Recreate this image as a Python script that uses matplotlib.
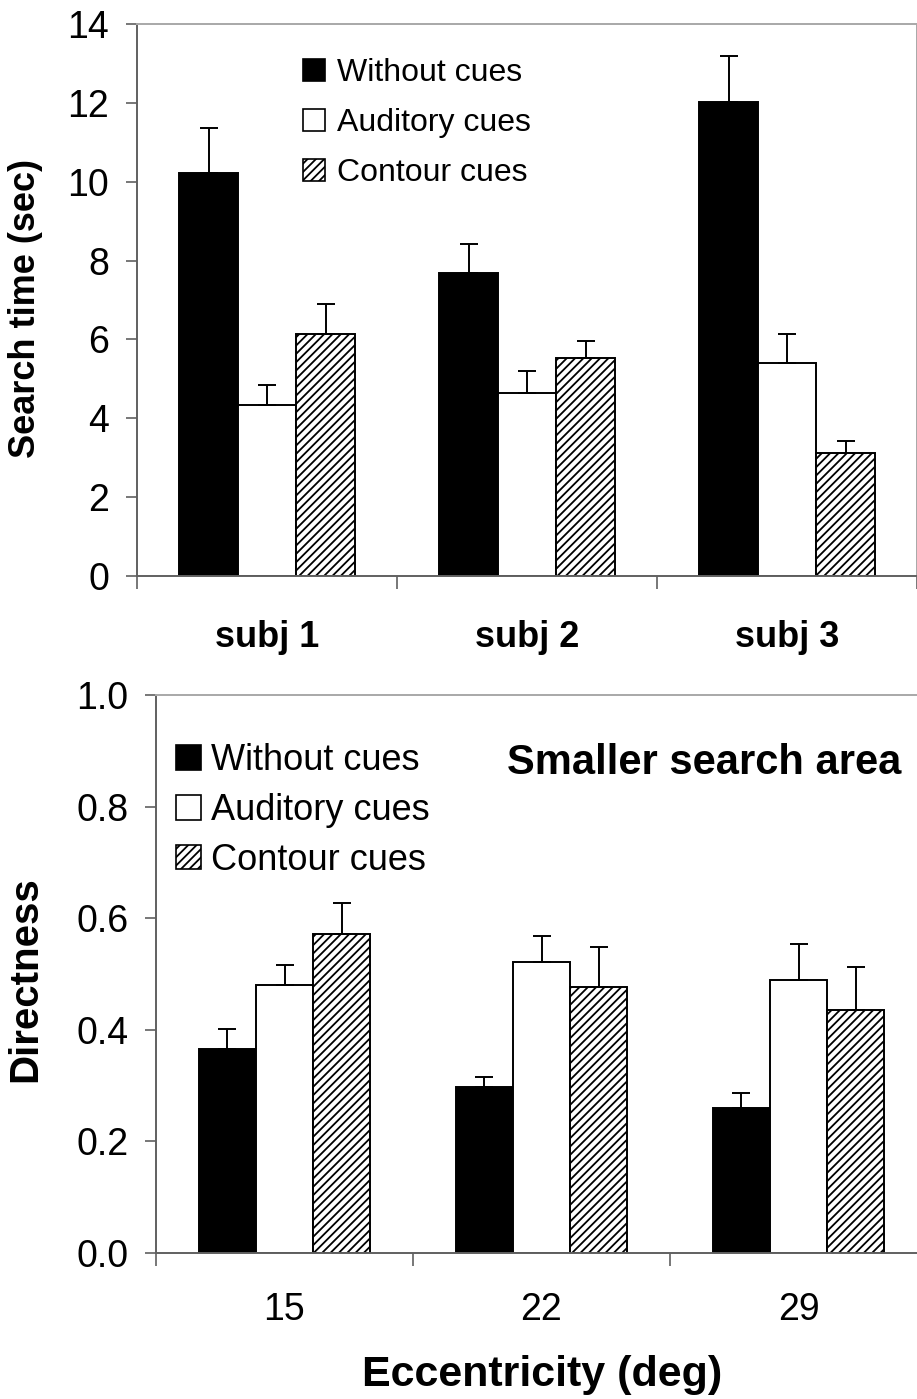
import numpy as np
import matplotlib
matplotlib.use("Agg")
import matplotlib.pyplot as plt
from matplotlib.patches import Patch

plt.rcParams['font.family'] = ['Liberation Sans', 'DejaVu Sans']
plt.rcParams['hatch.linewidth'] = 1.3

series = ["Without cues", "Auditory cues", "Contour cues"]
faces = ["black", "white", "white"]
hatches = [None, None, "////"]

# top panel: search time
subjects = ["subj 1", "subj 2", "subj 3"]
time_mean = [[10.21, 7.68, 12.01],
             [4.34, 4.63, 5.41],
             [6.14, 5.52, 3.13]]
time_err = [[1.16, 0.75, 1.19],
            [0.50, 0.57, 0.72],
            [0.75, 0.44, 0.30]]

# bottom panel: directness
ecc = ["15", "22", "29"]
dir_mean = [[0.365, 0.297, 0.259],
            [0.480, 0.521, 0.490],
            [0.572, 0.477, 0.435]]
dir_err = [[0.036, 0.018, 0.027],
           [0.037, 0.047, 0.063],
           [0.055, 0.071, 0.078]]

W, H = 917, 1399
fig = plt.figure(figsize=(W / 100, H / 100), dpi=100)


def fx(px):
    return px / W


def fy(py):
    return 1 - py / H


def draw_bars(ax, means, errs, bw):
    x = np.arange(3)
    for i in range(3):
        pos = x + (i - 1) * bw
        ax.bar(pos, means[i], bw, color=faces[i], edgecolor="black",
               linewidth=1.4, hatch=hatches[i], zorder=2)
        ax.errorbar(pos, means[i], yerr=[np.zeros(3), errs[i]], fmt="none",
                    ecolor="black", elinewidth=1.4, capsize=6.5,
                    capthick=1.4, zorder=3)
    ax.set_xlim(-0.5, 2.5)
    ax.set_xticks(x)
    ax.set_xticks([-0.5, 0.5, 1.5, 2.5], minor=True)
    ax.tick_params(axis="x", which="major", length=0)
    ax.tick_params(axis="x", which="minor", length=9, width=1.2,
                   color="#606060", direction="out")
    ax.tick_params(axis="y", length=8, width=1.2, color="#606060",
                   direction="out")
    for s in ["left", "bottom"]:
        ax.spines[s].set_color("#606060")
        ax.spines[s].set_linewidth(1.4)
    for s in ["top", "right"]:
        ax.spines[s].set_color("#a8a8a8")
        ax.spines[s].set_linewidth(1.4)


def handles():
    return [Patch(facecolor=faces[i], edgecolor="black", linewidth=1.2,
                  hatch=hatches[i], label=series[i]) for i in range(3)]


# ---- top ----
ax1 = fig.add_axes([fx(137), fy(576), fx(780), 552 / H])
draw_bars(ax1, time_mean, time_err, 0.225)
ax1.set_ylim(0, 14)
ax1.set_yticks(range(0, 15, 2))
ax1.set_xticklabels(subjects, fontsize=26, fontweight="bold")
ax1.tick_params(axis="x", which="major", pad=32)
ax1.tick_params(axis="y", labelsize=27, pad=12)
ax1.set_ylabel("Search time (sec)", fontsize=26, fontweight="bold")
ax1.yaxis.set_label_coords(-0.12, 0.485)
ax1.legend(handles=handles(), loc="upper left",
           bbox_to_anchor=(fx(303), fy(58)), bbox_transform=fig.transFigure,
           frameon=False, fontsize=23, handlelength=0.7, handleheight=0.7,
           handletextpad=0.35, labelspacing=0.63, borderpad=0,
           borderaxespad=0)

# ---- bottom ----
ax2 = fig.add_axes([fx(156), fy(1253), fx(771), 558 / H])
draw_bars(ax2, dir_mean, dir_err, 0.223)
ax2.set_ylim(0, 1.0)
ax2.set_yticks(np.arange(0, 1.01, 0.2))
ax2.set_yticklabels([f"{v:.1f}" for v in np.arange(0, 1.01, 0.2)])
ax2.set_xticklabels(ecc, fontsize=27)
ax2.tick_params(axis="x", which="major", pad=28)
ax2.tick_params(axis="y", labelsize=27, pad=12)
ax2.set_ylabel("Directness", fontsize=29, fontweight="bold")
ax2.yaxis.set_label_coords(-0.145, 0.49)
ax2.legend(handles=handles(), loc="upper left",
           bbox_to_anchor=(fx(176), fy(743)), bbox_transform=fig.transFigure,
           frameon=False, fontsize=26, handlelength=0.68, handleheight=0.68,
           handletextpad=0.3, labelspacing=0.41, borderpad=0,
           borderaxespad=0)

fig.text(fx(704), fy(763), "Smaller search area", fontsize=30,
         fontweight="bold", ha="center", va="center")
fig.text(fx(542), fy(1375), "Eccentricity (deg)", fontsize=31,
         fontweight="bold", ha="center", va="center")

fig.savefig("out.png", dpi=100)
